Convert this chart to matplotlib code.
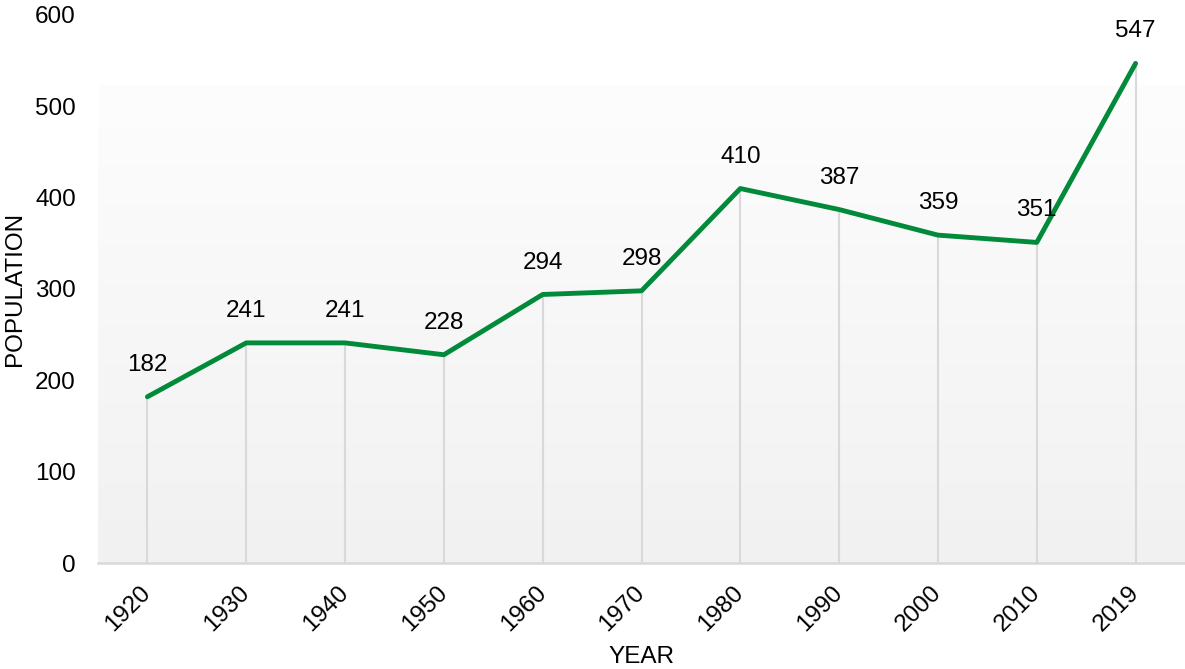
import numpy as np
import matplotlib
matplotlib.use("Agg")
import matplotlib.pyplot as plt
from matplotlib.colors import LinearSegmentedColormap

years = ["1920", "1930", "1940", "1950", "1960", "1970", "1980", "1990", "2000", "2010", "2019"]
population = [182, 241, 241, 228, 294, 298, 410, 387, 359, 351, 547]
y_ticks = [0, 100, 200, 300, 400, 500, 600]

plt.rcParams["font.family"] = ["Liberation Sans", "DejaVu Sans"]

fig = plt.figure(figsize=(11.85, 6.69), dpi=100)
ax = fig.add_axes([98 / 1185, 1 - 563 / 669, 1 - 98 / 1185, (563 - 15) / 669])

x = np.arange(len(years))
ax.set_xlim(-0.5, len(years) - 0.5)
ax.set_ylim(0, 600)

# soft vertical gradient behind the plot area
grad = np.linspace(0, 1, 256).reshape(-1, 1)
cmap = LinearSegmentedColormap.from_list("bg", ["#f1f1f1", "#fdfdfd"])
ax.imshow(grad, extent=(-0.5, len(years) - 0.5, 0, 523), origin="lower",
          aspect="auto", cmap=cmap, zorder=0)

# drop lines from each point to the axis
ax.vlines(x, 0, population, colors="#d9d9d9", linewidth=1.5, zorder=1)

ax.plot(x, population, color="#008a3a", linewidth=3.5, solid_capstyle="round",
        solid_joinstyle="round", zorder=3)

for xi, v in zip(x, population):
    ax.annotate(str(v), (xi, v), xytext=(0, 23), textcoords="offset points",
                ha="center", va="center", fontsize=17.5, color="#000000")

for side in ["top", "right", "left"]:
    ax.spines[side].set_visible(False)
ax.spines["bottom"].set_color("#d9d9d9")
ax.spines["bottom"].set_linewidth(1.8)
ax.spines["bottom"].set_zorder(2)

ax.set_yticks(y_ticks)
ax.set_yticklabels([str(t) for t in y_ticks], fontsize=17.5)
ax.set_xticks(x)
ax.set_xticklabels(years, fontsize=17.5, rotation=45, ha="right", va="center",
                   rotation_mode="anchor")
ax.tick_params(axis="both", length=0)
ax.tick_params(axis="y", pad=16)
ax.tick_params(axis="x", pad=19)

ax.set_ylabel("POPULATION", fontsize=17.5)
ax.yaxis.set_label_coords((15 - 98) / (1185 - 98), 0.5)
ax.set_xlabel("YEAR", fontsize=17.5)
ax.xaxis.set_label_coords(0.5, -(657 - 563) / (563 - 15))
ax.xaxis.label.set_va("center")
ax.yaxis.label.set_va("center")

fig.savefig("out.png", dpi=100)
